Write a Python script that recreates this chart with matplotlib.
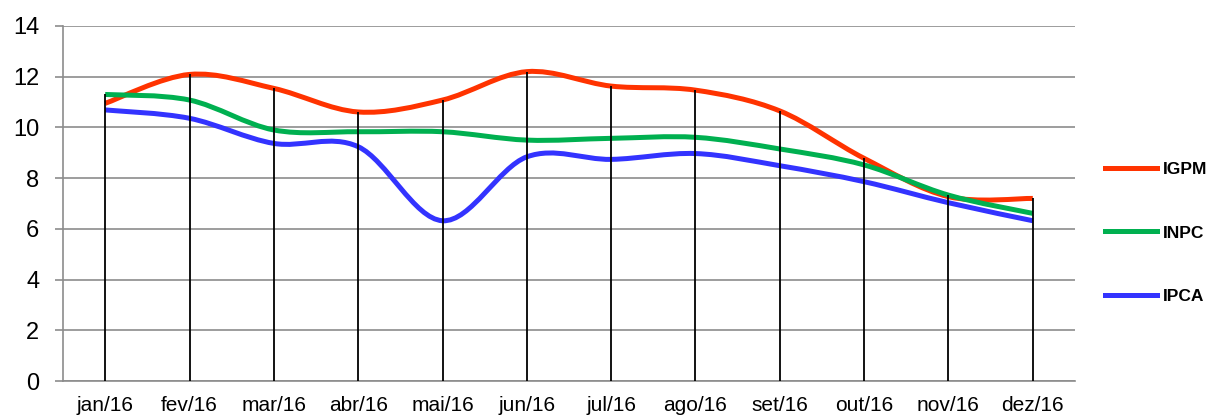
import matplotlib
matplotlib.use("Agg")
import matplotlib.pyplot as plt
from matplotlib.path import Path
from matplotlib.patches import PathPatch
from matplotlib.lines import Line2D

months = ["jan/16", "fev/16", "mar/16", "abr/16", "mai/16", "jun/16",
          "jul/16", "ago/16", "set/16", "out/16", "nov/16", "dez/16"]
igpm = [10.95, 12.09, 11.54, 10.61, 11.08, 12.20, 11.63, 11.47, 10.65, 8.78, 7.27, 7.20]
inpc = [11.30, 11.08, 9.90, 9.83, 9.83, 9.50, 9.57, 9.61, 9.15, 8.52, 7.33, 6.61]
ipca = [10.69, 10.36, 9.37, 9.24, 6.32, 8.84, 8.74, 8.97, 8.49, 7.86, 7.03, 6.32]

series = [("IGPM", igpm, "#ff3300"), ("INPC", inpc, "#00b050"), ("IPCA", ipca, "#3333ff")]

plt.rcParams["font.family"] = ["Liberation Sans", "DejaVu Sans"]


def smooth_path(xs, ys):
    # excel style smoothed line: cubic bezier through every point
    n = len(xs)
    verts = [(xs[0], ys[0])]
    codes = [Path.MOVETO]
    for i in range(n - 1):
        p0 = max(i - 1, 0)
        p3 = min(i + 2, n - 1)
        c1 = (xs[i] + (xs[i + 1] - xs[p0]) / 6, ys[i] + (ys[i + 1] - ys[p0]) / 6)
        c2 = (xs[i + 1] - (xs[p3] - xs[i]) / 6, ys[i + 1] - (ys[p3] - ys[i]) / 6)
        verts += [c1, c2, (xs[i + 1], ys[i + 1])]
        codes += [Path.CURVE4] * 3
    return Path(verts, codes)


fig = plt.figure(figsize=(12.11, 4.15), dpi=100)
ax = fig.add_axes([63 / 1211, 34 / 415, 1012 / 1211, 355 / 415])

x = list(range(len(months)))
handles = []
for name, vals, col in series:
    patch = PathPatch(smooth_path(x, vals), fill=False, edgecolor=col,
                      linewidth=3.6, capstyle="butt", zorder=3)
    ax.add_patch(patch)
    handles.append(Line2D([], [], color=col, linewidth=3.6, label=name))

# drop lines from the highest series down to the axis
tops = [max(a, b, c) for a, b, c in zip(igpm, inpc, ipca)]
ax.vlines(x, 0, tops, color="black", linewidth=1.3, zorder=4)

ax.set_xlim(-0.5, len(months) - 0.5)
ax.set_ylim(0, 14)
ax.set_yticks(range(0, 15, 2))
ax.set_xticks(x)
ax.set_xticklabels(months)
ax.tick_params(axis="x", length=0, pad=11, labelsize=15)
ax.tick_params(axis="y", length=6, width=1.2, color="#8c8c8c", pad=11, labelsize=17)
ax.yaxis.grid(True, color="#8c8c8c", linewidth=1.2)
ax.set_axisbelow(True)
for s in ["top", "right"]:
    ax.spines[s].set_visible(False)
ax.spines["left"].set_color("#8c8c8c")
ax.spines["left"].set_linewidth(1.2)
ax.spines["bottom"].set_color("#8c8c8c")
ax.spines["bottom"].set_linewidth(1.2)

ax.legend(handles=handles, loc="center left", bbox_to_anchor=(1.0296, 0.417),
          frameon=False, borderpad=0, borderaxespad=0, labelspacing=2.8,
          handlelength=3.0, handletextpad=0.35, prop={"weight": "bold", "size": 12.5})

fig.savefig("out.png", dpi=100)
